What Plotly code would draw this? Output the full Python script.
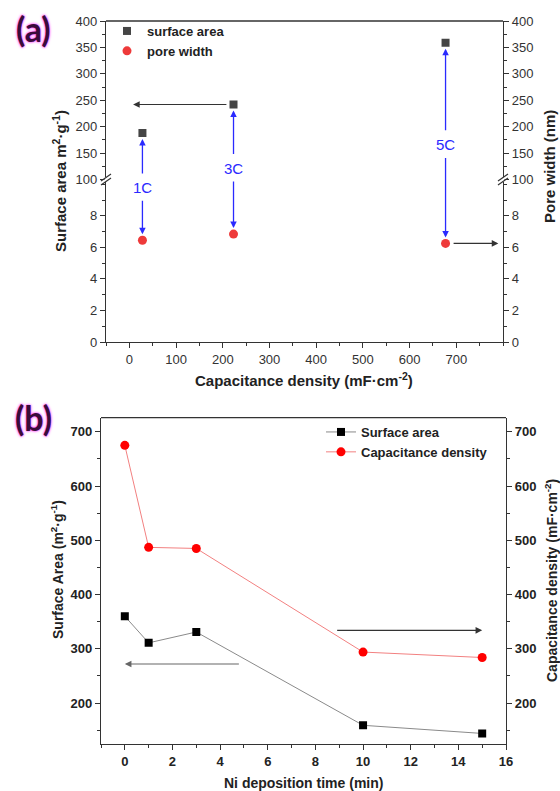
import plotly.graph_objects as go

# ---------------- data ----------------
# panel (a)
cap_a = [28, 223, 677]            # capacitance density (mF/cm2)
sa_a = [188, 242, 359]            # surface area (m2/g)
pw_a = [6.45, 6.84, 6.25]         # pore width (nm)
labels_a = ["1C", "3C", "5C"]
xticks_a = [0, 100, 200, 300, 400, 500, 600, 700]
yticks_low = [0, 2, 4, 6, 8]
yticks_up = [100, 150, 200, 250, 300, 350, 400]

# panel (b)
t_b = [0, 1, 3, 10, 15]           # Ni deposition time (min)
sa_b = [360, 311, 331, 159, 144]  # surface area
cd_b = [675, 487, 485, 294, 284]  # capacitance density

W, H = 560, 791
def px(x): return x / W
def py(y): return 1 - y / H

FONT = "Liberation Sans"
AX = "#333333"
BLUE = "#2a2aff"

# domains
xa_dom = [px(106), px(503)]
ya_low = [py(342), py(179.5)]
ya_up = [py(179.5), py(21)]
xb_dom = [px(101), px(506)]
yb_dom = [py(744.3), py(417.7)]

fig = go.Figure()

# ---- panel (a) traces ----
fig.add_trace(go.Scatter(x=cap_a, y=sa_a, mode="markers", name="surface area",
                         xaxis="x", yaxis="y2", legend="legend",
                         marker=dict(symbol="square", size=8, color="#454545")))
fig.add_trace(go.Scatter(x=cap_a, y=pw_a, mode="markers", name="pore width",
                         xaxis="x", yaxis="y", legend="legend",
                         marker=dict(symbol="circle", size=9, color="#ee3a3a")))
# invisible copies so the right-hand axes of panel (a) are drawn
fig.add_trace(go.Scatter(x=cap_a, y=pw_a, mode="markers", xaxis="x", yaxis="y3",
                         showlegend=False, hoverinfo="skip", marker=dict(opacity=0)))
fig.add_trace(go.Scatter(x=cap_a, y=sa_a, mode="markers", xaxis="x", yaxis="y4",
                         showlegend=False, hoverinfo="skip", marker=dict(opacity=0)))

# ---- panel (b) traces ----
fig.add_trace(go.Scatter(x=t_b, y=sa_b, mode="lines+markers", name="Surface area",
                         xaxis="x2", yaxis="y5", legend="legend2",
                         line=dict(color="#8a8a8a", width=1),
                         marker=dict(symbol="square", size=8, color="#000000")))
fig.add_trace(go.Scatter(x=t_b, y=cd_b, mode="lines+markers", name="Capacitance density",
                         xaxis="x2", yaxis="y6", legend="legend2",
                         line=dict(color="#f28080", width=1),
                         marker=dict(symbol="circle", size=9, color="#ff0000")))

tickfont_a = dict(family=FONT, size=13, color=AX)
tickfont_b = dict(family=FONT, size=13, color="#222222", weight="bold")

common_axis = dict(showline=True, linecolor=AX, linewidth=1.3, ticks="outside",
                   tickcolor=AX, ticklen=5, tickwidth=1.2, showgrid=False, zeroline=False)

fig.update_layout(
    width=W, height=H, margin=dict(l=0, r=0, t=0, b=0, autoexpand=False),
    paper_bgcolor="white", plot_bgcolor="white",
    font=dict(family=FONT, color=AX),
    xaxis=dict(domain=xa_dom, range=[-50, 800], anchor="y", tickvals=xticks_a,
               tickfont=tickfont_a,
               minor=dict(dtick=50, tick0=0, ticks="outside", ticklen=3, tickcolor=AX),
               **common_axis),
    yaxis=dict(domain=ya_low, range=[0, 10.3], anchor="x", tickvals=yticks_low,
               tickfont=tickfont_a,
               minor=dict(dtick=1, tick0=0, ticks="outside", ticklen=3, tickcolor=AX),
               **common_axis),
    yaxis2=dict(domain=ya_up, range=[100, 400], anchor="x", tickvals=yticks_up,
                tickfont=tickfont_a,
                minor=dict(dtick=25, tick0=100, ticks="outside", ticklen=3, tickcolor=AX),
                **common_axis),
    yaxis3=dict(overlaying="y", side="right", anchor="x", range=[0, 10.3], tickvals=yticks_low,
                tickfont=tickfont_a,
                minor=dict(dtick=1, tick0=0, ticks="outside", ticklen=3, tickcolor=AX),
                **common_axis),
    yaxis4=dict(overlaying="y2", side="right", anchor="x", range=[100, 400], tickvals=yticks_up,
                tickfont=tickfont_a,
                minor=dict(dtick=25, tick0=100, ticks="outside", ticklen=3, tickcolor=AX),
                **common_axis),
    xaxis2=dict(domain=xb_dom, range=[-1, 16], anchor="y5", dtick=2, tick0=0,
                tickfont=tickfont_b,
                minor=dict(dtick=1, ticks="outside", ticklen=3, tickcolor=AX),
                **common_axis),
    yaxis5=dict(domain=yb_dom, range=[124, 726], anchor="x2", dtick=100, tick0=0,
                tickfont=tickfont_b,
                minor=dict(dtick=50, ticks="outside", ticklen=3, tickcolor=AX),
                **common_axis),
    yaxis6=dict(overlaying="y5", side="right", anchor="x2", range=[124, 726], dtick=100, tick0=0,
                tickfont=tickfont_b,
                minor=dict(dtick=50, ticks="outside", ticklen=3, tickcolor=AX),
                **common_axis),
    legend=dict(x=px(107), y=py(16), xanchor="left", yanchor="top",
                bgcolor="rgba(0,0,0,0)", tracegroupgap=0,
                font=dict(family=FONT, size=13, color="#222222", weight="bold")),
    legend2=dict(x=px(321), y=py(417), xanchor="left", yanchor="top",
                 bgcolor="rgba(0,0,0,0)", tracegroupgap=0,
                 font=dict(family=FONT, size=13, color="#222222", weight="bold")),
    showlegend=True,
)

shapes = []
# top frame line of panel (a) and (b)
shapes.append(dict(type="line", xref="paper", yref="paper", x0=xa_dom[0], x1=xa_dom[1],
                   y0=ya_up[1], y1=ya_up[1], line=dict(color=AX, width=1.3)))
shapes.append(dict(type="line", xref="paper", yref="paper", x0=xb_dom[0], x1=xb_dom[1],
                   y0=yb_dom[1], y1=yb_dom[1], line=dict(color=AX, width=1.3)))
# axis break marks
for xc in (106, 503):
    shapes.append(dict(type="line", xref="paper", yref="paper",
                       x0=px(xc), x1=px(xc), y0=py(177), y1=py(182),
                       line=dict(color="white", width=3)))
    for dy in (-2, 2):
        shapes.append(dict(type="line", xref="paper", yref="paper",
                           x0=px(xc - 5), x1=px(xc + 5), y0=py(183 + dy), y1=py(176 + dy),
                           line=dict(color=AX, width=1.2)))
fig.update_layout(shapes=shapes)

ann = []
def txt_ann(text, x, y, size, color="#222222", angle=0, family=FONT, bold=False, shadow=None):
    f = dict(family=family, size=size, color=color, weight="bold" if bold else "normal")
    if shadow:
        f["shadow"] = shadow
    ann.append(dict(text=text, xref="paper", yref="paper", x=px(x), y=py(y),
                    xanchor="center", yanchor="middle", textangle=angle, showarrow=False,
                    font=f))

# panel labels (dark purple with pink glow)
GLOW = "0px 0px 2px #ff4dff, 0px 0px 3px #ff4dff"
txt_ann("(a)", 33, 28, 34, color="#3a0c3a", family="Lato", bold=True, shadow=GLOW)
txt_ann("(b)", 33, 418, 34, color="#3a0c3a", family="Lato", bold=True, shadow=GLOW)

# axis titles (a)
txt_ann("<b>Surface area m<sup>2</sup>·g<sup>-1</sup>)</b>", 60, 181, 15, angle=-90)
txt_ann("<b>Pore width (nm)</b>", 550, 167, 15, angle=-90)
txt_ann("<b>Capacitance density (mF·cm<sup>-2</sup>)</b>", 304, 380, 15)
# axis titles (b)
txt_ann("<b>Surface Area (m<sup>2</sup>·g<sup>-1</sup>)</b>", 57, 570, 14, angle=-90)
txt_ann("<b>Capacitance density (mF·cm<sup>-2</sup>)</b>", 551, 581, 14, angle=-90)
txt_ann("<b>Ni deposition time (min)</b>", 303, 783, 14)

# blue labels and arrows for panel (a): label position (px) and arrow tail offsets (px)
label_y = {"1C": 187, "3C": 168, "5C": 144}
up_off = {"1C": 42, "3C": 51, "5C": 89}
down_off = {"1C": -41, "3C": -54, "5C": -87}
for xv, sv, pv, lab in zip(cap_a, sa_a, pw_a, labels_a):
    ann.append(dict(text=lab, x=xv, xref="x", y=py(label_y[lab]), yref="paper",
                    xanchor="center", yanchor="middle", showarrow=False,
                    font=dict(family=FONT, size=15, color=BLUE)))
    ann.append(dict(x=xv, y=sv, xref="x", yref="y2", ax=0, ay=up_off[lab],
                    showarrow=True, arrowhead=2, arrowsize=1, standoff=6,
                    arrowwidth=1.3, arrowcolor=BLUE, text=""))
    ann.append(dict(x=xv, y=pv, xref="x", yref="y", ax=0, ay=down_off[lab],
                    showarrow=True, arrowhead=2, arrowsize=1, standoff=6,
                    arrowwidth=1.3, arrowcolor=BLUE, text=""))

# black horizontal arrows in (a)
ann.append(dict(x=8, y=sa_a[1], xref="x", yref="y2", ax=cap_a[1] - 12, ay=sa_a[1],
                axref="x", ayref="y2", showarrow=True, arrowhead=2, arrowsize=1.2,
                arrowwidth=1.1, arrowcolor="#333333", text=""))
ann.append(dict(x=790, y=pw_a[2], xref="x", yref="y", ax=cap_a[2] + 14, ay=pw_a[2],
                axref="x", ayref="y", showarrow=True, arrowhead=2, arrowsize=1.2,
                arrowwidth=1.1, arrowcolor="#333333", text=""))

# arrows in (b)
ann.append(dict(x=0, y=272, xref="x2", yref="y5", ax=4.85, ay=272,
                axref="x2", ayref="y5", showarrow=True, arrowhead=2, arrowsize=1.2,
                arrowwidth=1.1, arrowcolor="#666666", text=""))
ann.append(dict(x=15, y=334, xref="x2", yref="y5", ax=8.85, ay=334,
                axref="x2", ayref="y5", showarrow=True, arrowhead=2, arrowsize=1.2,
                arrowwidth=1.1, arrowcolor="#333333", text=""))

fig.update_layout(annotations=ann)

fig.write_html("out.html")
